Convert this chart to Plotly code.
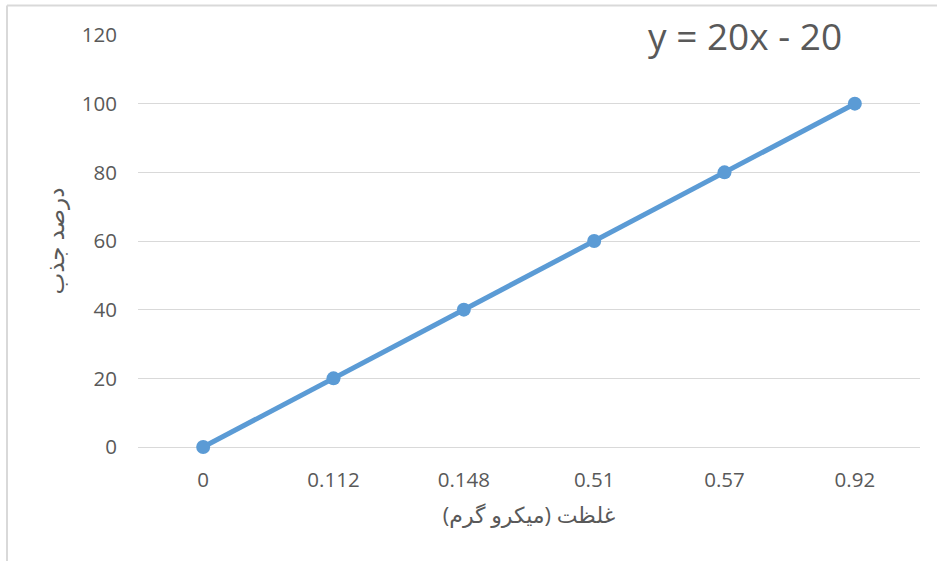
import plotly.graph_objects as go

categories = ["0", "0.112", "0.148", "0.51", "0.57", "0.92"]
values = [0, 20, 40, 60, 80, 100]
y_ticks = [0, 20, 40, 60, 80, 100, 120]
x_title = "غلظت (میکرو گرم)\u200F"
y_title = "درصد جذب"
equation = "y = 20x - 20"

FONT = "Open Sans, DejaVu Sans, sans-serif"
TXT = "#595959"
GRID = "#D9D9D9"

fig = go.Figure()
fig.add_trace(go.Scatter(
    x=categories, y=values, mode="lines+markers",
    line=dict(color="#5B9BD5", width=5),
    marker=dict(color="#5B9BD5", size=14),
    showlegend=False, cliponaxis=False,
))

W, H = 937, 561
L, R, T, B = 138, 17, 35, 114
pw, ph = W - L - R, H - T - B

def px(xp):
    return (xp - L) / pw

def py(yp):
    return (H - B - yp) / ph

fig.update_layout(
    width=W, height=H,
    margin=dict(l=L, r=R, t=T, b=B),
    paper_bgcolor="white", plot_bgcolor="white",
    font=dict(family=FONT, color=TXT, size=20),
    xaxis=dict(
        type="category", categoryorder="array", categoryarray=categories,
        showgrid=False, showline=False, zeroline=False, ticks="",
        tickfont=dict(size=20.5, color=TXT), ticklabelstandoff=18,
        title=dict(text=x_title, font=dict(size=22, color=TXT), standoff=16),
        range=[-0.5, 5.5],
    ),
    yaxis=dict(
        range=[0, 120], tickvals=y_ticks, showgrid=True, gridcolor=GRID,
        gridwidth=1.3, zeroline=True, zerolinecolor=GRID, zerolinewidth=1.3,
        showline=False, ticks="", tickfont=dict(size=20.5, color=TXT),
        ticklabelstandoff=20,
        title=dict(text=y_title, font=dict(size=23, color=TXT), standoff=10),
    ),
    annotations=[dict(
        text=equation, xref="paper", yref="paper", x=px(745), y=py(35),
        showarrow=False, font=dict(size=37, color=TXT, family=FONT),
        xanchor="center", yanchor="middle",
    )],
    shapes=[
        dict(type="line", xref="paper", yref="paper", x0=px(7), x1=px(937),
             y0=py(5.5), y1=py(5.5), line=dict(color=GRID, width=2)),
        dict(type="line", xref="paper", yref="paper", x0=px(7), x1=px(7),
             y0=py(5.5), y1=py(561), line=dict(color=GRID, width=2)),
    ],
)

fig.write_html("out.html", config={"displayModeBar": False},
               post_script="document.body.style.margin='0';")
